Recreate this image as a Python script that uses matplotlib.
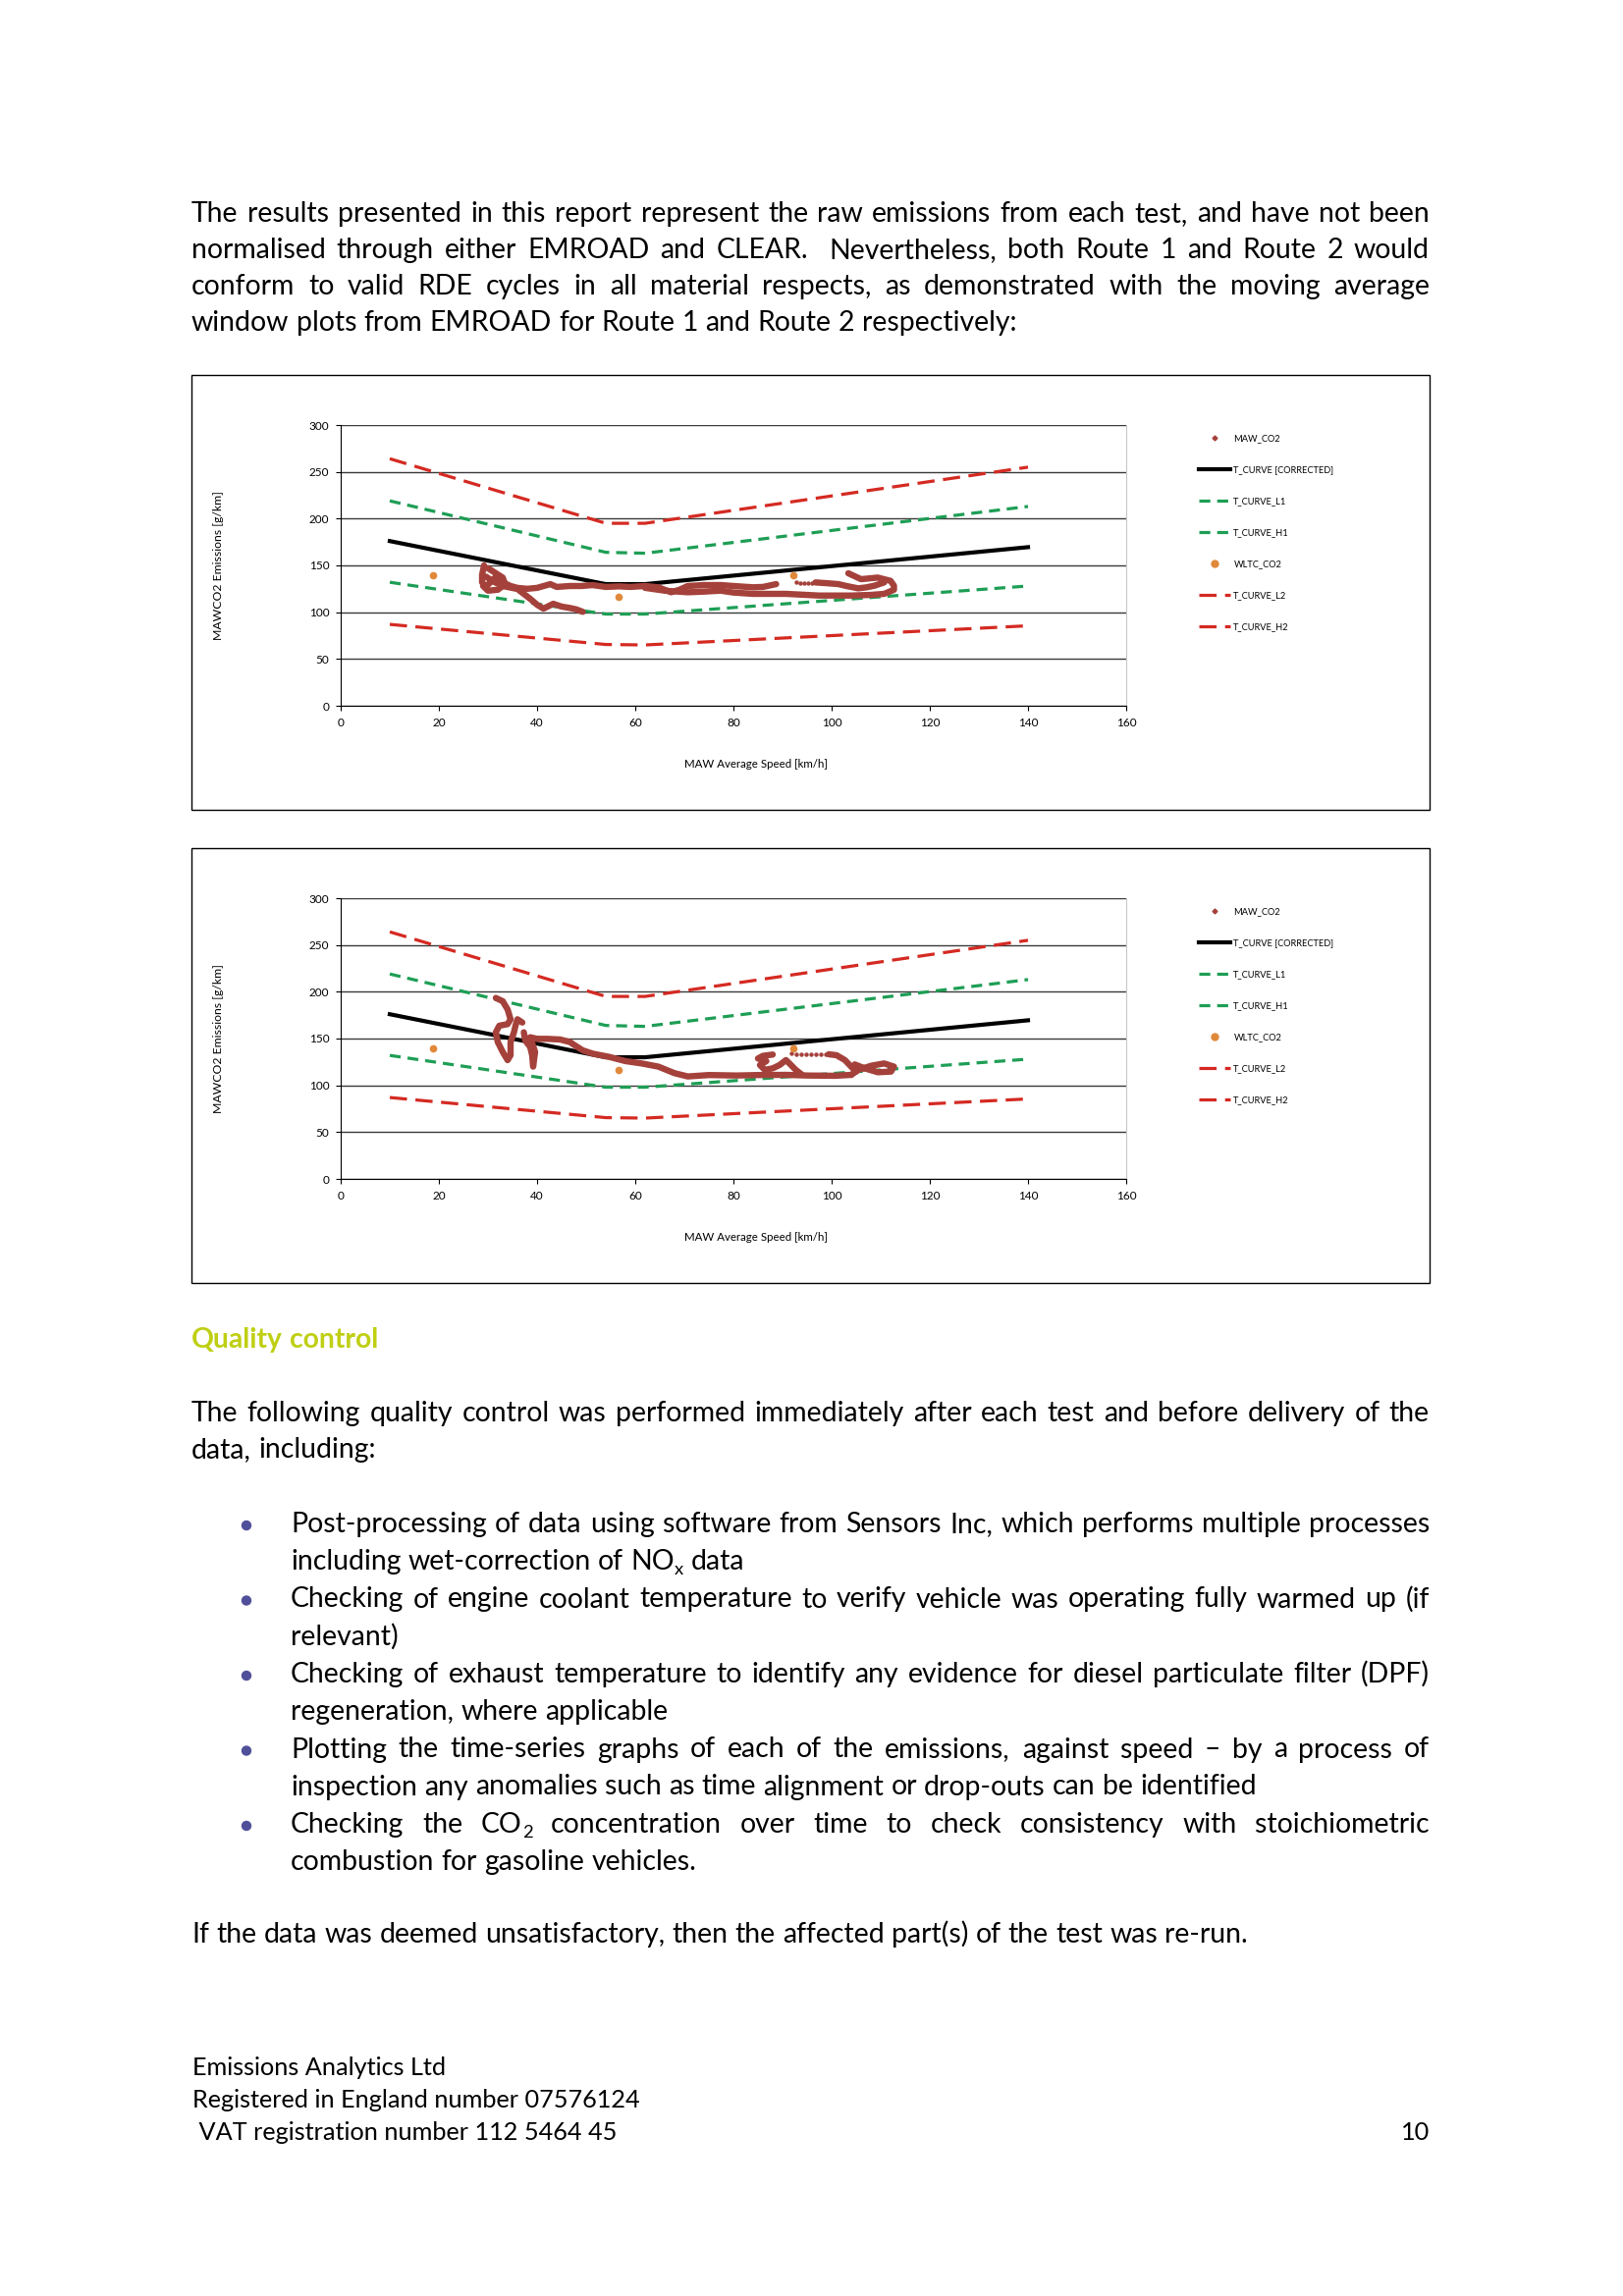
import matplotlib
matplotlib.use('Agg')
import matplotlib.pyplot as plt
from matplotlib.lines import Line2D
from matplotlib.patches import Rectangle, Circle

W, H = 1653, 2339
BODY = ['Liberation Sans Narrow', 'Lato', 'DejaVu Sans']

# EMROAD window curves (speed km/h -> g/km)
curve_speed = [10, 54, 62, 140]
t_curve = [176, 130, 130, 169.5]
t_curve_h1 = [219, 164, 163, 213]
t_curve_l1 = [132, 98, 98, 128]
t_curve_h2 = [264, 195, 195, 255]
t_curve_l2 = [87, 65.5, 65, 85.5]

wltc_speed = [18.7, 56.5, 92.1]
wltc_co2 = [139, 116.5, 139.5]

# MAW_CO2 traces, route 1
route1_main = [(29.2, 150), (28.8, 140), (28.8, 132), (29.6, 127), (31, 135), (32, 139), (33, 132),
               (34.6, 128), (36, 126), (38, 125), (40, 126), (42.7, 130), (44, 127), (46.7, 128),
               (49, 128), (51.3, 129), (54, 127), (56.7, 127.6), (59, 127), (62, 128), (64.7, 126.6),
               (67.3, 121.3), (69, 124), (70.7, 128), (74, 129), (77.4, 129), (80, 128),
               (84, 126.6), (86, 127), (88.7, 130)]
route1_blob = [(30, 147), (31.5, 142), (33, 137), (33.5, 130), (32, 124), (30, 123), (29, 128)]
route1_lower = [(29.6, 138), (31, 133), (33, 128), (36, 124.8), (38.6, 114.3), (40, 108),
                (41.3, 103.8), (43.3, 109), (45, 106), (46.7, 104.5), (48, 103), (49.3, 100.4)]
route1_band = [(62, 126), (66, 123), (70.7, 121.3), (74, 122), (77.4, 123), (80, 121), (84, 119.6),
               (90.7, 119.6), (97.4, 117.8), (104, 117.8), (108, 118.5), (110.7, 119.6),
               (112.7, 124), (112.7, 128.3), (112, 133.5), (109.4, 137), (106, 135.3), (103.4, 141.6)]
route1_right = [(96.7, 131.8), (99, 131), (101.4, 130), (103, 128), (105.4, 125.5), (107, 126.5),
                (108.7, 128.3), (110.7, 131.8)]
route1_dots = [(92.7, 131.8), (93.5, 131.5), (94.3, 131.3), (95.1, 131.2), (96, 131)]

# MAW_CO2 traces, route 2
route2_tangle = [(31.6, 193.4), (33, 189.9), (34, 181.1), (34.6, 170.6), (34, 165.4), (32.3, 163.7),
                 (31.6, 156.7), (32, 146.2), (33, 135.7), (34, 126.9), (34.6, 132.2), (34.6, 146.2),
                 (35.3, 156.7), (35.6, 163.7), (36, 170.6), (37, 167.1)]
route2_column = [(37.3, 156.7), (37.6, 147.9), (38.6, 140.9), (39, 132.2), (39.2, 120),
                 (39.6, 135.7), (38.6, 151.4), (40, 149.7)]
route2_main = [(40, 149.7), (42, 149.7), (44.7, 149), (46.7, 146.2), (47.7, 142.7), (49.3, 137.4),
               (51.3, 133.9), (54.7, 130.4), (58, 125.9), (61.3, 123.4), (64.7, 120), (68, 113),
               (70.7, 109.5), (75, 111), (80.7, 110.5), (85, 111), (90.7, 111.2), (95, 110.5),
               (100.7, 110.2), (104, 111.2)]
route2_loop = [(104, 111.2), (105.4, 116.5), (108.1, 121), (110.7, 123.4), (112.7, 120),
               (112.1, 114.7), (109.4, 114), (106.7, 118.2), (104.7, 122.4)]
route2_hook = [(99.4, 133.2), (101, 132.2), (102.7, 127), (104, 119.9), (105, 114.7)]
route2_left = [(88, 132.9), (86, 131.5), (85, 128.7), (86.7, 125.9), (85.4, 121.7), (86.4, 116.5),
               (88, 118.2), (89.4, 121.7), (90.7, 127), (91.4, 123.4), (92.7, 116.5), (94, 111.2)]
route2_dots = [(91.7, 133.9), (92.7, 133.5), (93.7, 133.5), (94.7, 133.5), (95.7, 133.5),
               (96.7, 133.5), (97.7, 133.5), (98.7, 133.4)]

para1 = [
    ("The results presented in this report represent the raw emissions from each test, and have not been", True),
    ("normalised through either EMROAD and CLEAR.  Nevertheless, both Route 1 and Route 2 would", True),
    ("conform to valid RDE cycles in all material respects, as demonstrated with the moving average", True),
    ("window plots from EMROAD for Route 1 and Route 2 respectively:", False),
]
para2 = [
    ("The following quality control was performed immediately after each test and before delivery of the", True),
    ("data, including:", False),
]
bullets = [
    ("Post-processing of data using software from Sensors Inc, which performs multiple processes",
     "including wet-correction of NO_x data"),
    ("Checking of engine coolant temperature to verify vehicle was operating fully warmed up (if",
     "relevant)"),
    ("Checking of exhaust temperature to identify any evidence for diesel particulate filter (DPF)",
     "regeneration, where applicable"),
    ("Plotting the time-series graphs of each of the emissions, against speed \u2013 by a process of",
     "inspection any anomalies such as time alignment or drop-outs can be identified"),
    ("Checking the CO_2 concentration over time to check consistency with stoichiometric",
     "combustion for gasoline vehicles."),
]
last_line = "If the data was deemed unsatisfactory, then the affected part(s) of the test was re-run."
footer = ["Emissions Analytics Ltd", "Registered in England number 07576124",
          " VAT registration number 112 5464 45"]

RED = '#D42A22'
GREEN = '#1E9E55'
MAW_C = '#A5413B'
ORANGE = '#E0893A'

fig = plt.figure(figsize=(W / 100, H / 100), dpi=100)
plt.rcParams['font.family'] = BODY
ov = fig.add_axes([0, 0, 1, 1])
ov.set_xlim(0, W)
ov.set_ylim(H, 0)
ov.axis('off')
renderer = fig.canvas.get_renderer()


def measure(text, size, weight='normal'):
    if text == '':
        return 0.0
    t = ov.text(0, 0, text, fontsize=size, weight=weight, family=BODY)
    w = t.get_window_extent(renderer).width
    t.remove()
    return w


def fit_size(text, width, weight='normal'):
    return 20 * width / measure(text, 20, weight)


def word_width(word, size, weight):
    if '_' in word:
        base, sub = word.split('_')
        return measure(base, size, weight) + measure(sub, size * 0.65, weight)
    return measure(word, size, weight)


def draw_word(x, y, word, size, color, weight):
    if word == '':
        return
    if '_' in word:
        base, sub = word.split('_')
        ov.text(x, y, base, fontsize=size, color=color, weight=weight, va='baseline')
        x2 = x + measure(base, size, weight)
        ov.text(x2, y + size * 0.25, sub, fontsize=size * 0.65, color=color, weight=weight, va='baseline')
    else:
        ov.text(x, y, word, fontsize=size, color=color, weight=weight, va='baseline')


def put_line(x0, y, text, size, x1=None, color='black', weight='normal'):
    words = text.split(' ')
    widths = [word_width(w, size, weight) for w in words]
    if x1 is None or len(words) < 2:
        gap = measure('a a', size, weight) - measure('aa', size, weight)
    else:
        gap = (x1 - x0 - sum(widths)) / (len(words) - 1)
    x = x0
    for w, wd in zip(words, widths):
        draw_word(x, y, w, size, color, weight)
        x += wd + gap


def pts(seg):
    return [p[0] for p in seg], [p[1] for p in seg]


def draw_chart(top, traces, dots):
    ov.add_patch(Rectangle((195, top - 51), 1261, 443, fill=False, ec='black', lw=1.0))
    ax = fig.add_axes([347 / W, 1 - (top + 286) / H, 800 / W, 286 / H])
    ax.set_xlim(0, 160)
    ax.set_ylim(0, 300)
    ax.set_xticks(range(0, 161, 20))
    ax.set_yticks(range(0, 301, 50))
    ax.grid(axis='y', color='#3a3a3a', lw=1.0)
    ax.set_axisbelow(True)
    ax.spines['top'].set_visible(False)
    ax.spines['right'].set_color('#c8c8c8')
    ax.spines['right'].set_linewidth(0.8)
    ax.tick_params(direction='out', length=3.5, width=0.8, labelsize=8.5, pad=5)

    ax.plot(curve_speed, t_curve_h2, color=RED, lw=2.3, dashes=(5.5, 2.7))
    ax.plot(curve_speed, t_curve_l2, color=RED, lw=2.3, dashes=(5.5, 2.7))
    ax.plot(curve_speed, t_curve_h1, color=GREEN, lw=2.3, dashes=(3.5, 2.2))
    ax.plot(curve_speed, t_curve_l1, color=GREEN, lw=2.3, dashes=(3.5, 2.2))
    ax.plot(curve_speed, t_curve, color='black', lw=3.0)
    for seg in traces:
        sx, sy = pts(seg)
        ax.plot(sx, sy, color=MAW_C, lw=4.6, solid_capstyle='round', solid_joinstyle='round')
    dx, dy = pts(dots)
    ax.plot(dx, dy, 'o', color=MAW_C, ms=3.2, mew=0)
    ax.plot(wltc_speed, wltc_co2, 'o', color=ORANGE, ms=5.5, mew=0)

    ax.set_xlabel('MAW Average Speed [km/h]', fontsize=8.3)
    ax.xaxis.set_label_coords((770 - 347) / 800, -(773 - 719) / 286)
    ax.set_ylabel('MAWCO2 Emissions [g/km]', fontsize=8.8)
    ax.yaxis.set_label_coords((228 - 347) / 800, 0.5)

    handles = [
        Line2D([], [], ls='none', marker='D', ms=2.5, color=MAW_C),
        Line2D([], [], color='black', lw=3.0),
        Line2D([], [], color=GREEN, lw=2.3, dashes=(3.5, 2.2)),
        Line2D([], [], color=GREEN, lw=2.3, dashes=(3.5, 2.2)),
        Line2D([], [], ls='none', marker='o', ms=5, color=ORANGE),
        Line2D([], [], color=RED, lw=2.3, dashes=(5.5, 2.7)),
        Line2D([], [], color=RED, lw=2.3, dashes=(5.5, 2.7)),
    ]
    labels = ['MAW_CO2', 'T_CURVE [CORRECTED]', 'T_CURVE_L1', 'T_CURVE_H1', 'WLTC_CO2',
              'T_CURVE_L2', 'T_CURVE_H2']
    ax.legend(handles, labels, loc='upper left', bbox_to_anchor=(1221 / W, 1 - (top + 9) / H),
              bbox_transform=fig.transFigure, frameon=False, fontsize=6.7, handlelength=3.4,
              handletextpad=0.4, labelspacing=2.47, borderpad=0, borderaxespad=0)
    return ax


def main():
    body = fit_size(last_line, 1075)
    head = fit_size("Quality control", 189, 'bold')
    foot = fit_size(footer[1], 457)

    for i, (line, just) in enumerate(para1):
        put_line(195, 226 + 37 * i, line, body, 1456 if just else None)

    draw_chart(433, [route1_main, route1_blob, route1_lower, route1_band, route1_right], route1_dots)
    draw_chart(915, [route2_tangle, route2_column, route2_main, route2_loop, route2_hook, route2_left],
               route2_dots)

    put_line(195, 1373, "Quality control", head, color='#BFCF14', weight='bold')
    for i, (line, just) in enumerate(para2):
        put_line(195, 1448 + 37 * i, line, body, 1456 if just else None)

    y = 1561
    for first, second in bullets:
        ov.add_patch(Circle((251, y - 7), 4.5, color='#50509A'))
        put_line(296, y, first, body, 1456)
        put_line(296, y + 38, second, body)
        y += 76.5

    put_line(195, 1979, last_line, body)

    for i, line in enumerate(footer):
        ov.text(196, 2114 + 33 * i, line, fontsize=foot, va='baseline')
    ov.text(1456, 2180, "10", fontsize=foot, va='baseline', ha='right')

    fig.savefig('out.png', dpi=100)


if __name__ == "__main__":
    main()
